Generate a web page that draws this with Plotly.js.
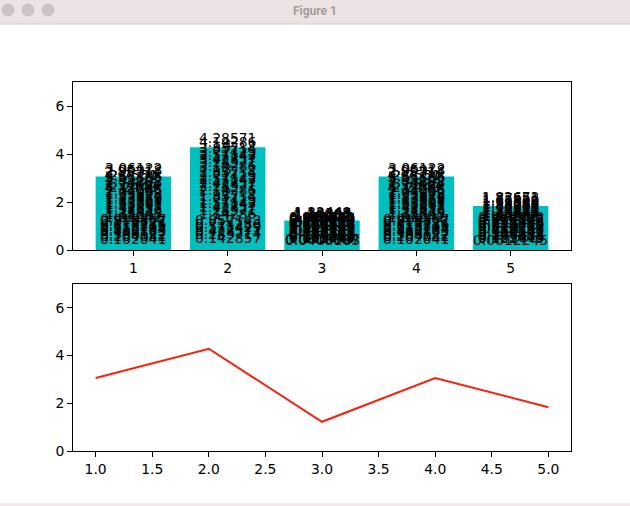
<!DOCTYPE html>
<html>
<head>
<meta charset="utf-8">
<script src="https://cdn.plot.ly/plotly-3.0.1.min.js"></script>
<style>html,body{margin:0;padding:0;background:#fff;}#chart{width:630px;height:506px;}</style>
</head>
<body>
<div id="chart"></div>
<script>
// ---- data ----
const categories = [1, 2, 3, 4, 5];
const barValues = [3.06122, 4.28571, 1.22449, 3.06122, 1.83673];
const lineX = [1, 2, 3, 4, 5];
const lineValues = [3.06122, 4.28571, 1.22449, 3.06122, 1.83673];

// labels drawn on each bar (one per redraw step)
const labels1 = [0.102041,0.204082,0.306122,0.408163,0.510204,0.612245,0.714286,0.816327,0.918367,1.02041,1.12245,1.22449,1.32653,1.42857,1.53061,1.63265,1.73469,1.83673,1.93878,2.04082,2.14286,2.2449,2.34694,2.44898,2.55102,2.65306,2.7551,2.85714,2.95918,3.06122];
const labels2 = [0.142857,0.285714,0.428571,0.571429,0.714286,0.857143,1,1.14286,1.28571,1.42857,1.57143,1.71429,1.85714,2,2.14286,2.28571,2.42857,2.57143,2.71429,2.85714,3,3.14286,3.28571,3.42857,3.57143,3.71429,3.85714,4,4.14286,4.28571];
const labels3 = [0.0408163,0.0816327,0.122449,0.163265,0.204082,0.244898,0.285714,0.326531,0.367347,0.408163,0.44898,0.489796,0.530612,0.571429,0.612245,0.653061,0.693878,0.734694,0.77551,0.816327,0.857143,0.897959,0.938776,0.979592,1.02041,1.06122,1.10204,1.14286,1.18367,1.22449];
const labels4 = [0.102041,0.204082,0.306122,0.408163,0.510204,0.612245,0.714286,0.816327,0.918367,1.02041,1.12245,1.22449,1.32653,1.42857,1.53061,1.63265,1.73469,1.83673,1.93878,2.04082,2.14286,2.2449,2.34694,2.44898,2.55102,2.65306,2.7551,2.85714,2.95918,3.06122];
const labels5 = [0.0612245,0.122449,0.183673,0.244898,0.306122,0.367347,0.428571,0.489796,0.55102,0.612245,0.673469,0.734694,0.795918,0.857143,0.918367,0.979592,1.04082,1.10204,1.16327,1.22449,1.28571,1.34694,1.40816,1.46939,1.53061,1.59184,1.65306,1.71429,1.77551,1.83673];
const barLabels = [labels1, labels2, labels3, labels4, labels5];
const topTicks = [1, 2, 3, 4, 5];
const yTicks = [0, 2, 4, 6];

// ---- layout helpers ----
const W = 630, H = 506;
const px = v => v / W;
const py = v => 1 - v / H;
const FONT = 'DejaVu Sans, sans-serif';
const FS = 13.9;

const annotations = [];
barLabels.forEach((arr, i) => {
  arr.forEach(v => {
    annotations.push({
      x: categories[i], y: v, xref: 'x', yref: 'y',
      text: String(v), showarrow: false,
      xanchor: 'center', yanchor: 'bottom',
      font: {family: FONT, size: FS, color: '#000'},
      borderpad: 0
    });
  });
});
annotations.push({
  x: px(315), y: py(11), xref: 'paper', yref: 'paper',
  text: '<b>Figure 1</b>', showarrow: false,
  xanchor: 'center', yanchor: 'middle',
  font: {family: 'Roboto, Liberation Sans, sans-serif', size: 12, color: '#a59d9e'}
});

const shapes = [
  {type: 'rect', xref: 'paper', yref: 'paper', x0: 0, x1: 1, y0: py(24), y1: 1,
   fillcolor: '#eee3e4', line: {width: 0}, layer: 'below'},
  {type: 'line', xref: 'paper', yref: 'paper', x0: 0, x1: 1, y0: py(24), y1: py(24),
   line: {color: '#d9d1d2', width: 1}},
  {type: 'rect', xref: 'paper', yref: 'paper', x0: 0, x1: 1, y0: 0, y1: py(503),
   fillcolor: '#f6e6ea', line: {width: 0}, layer: 'below'}
];
[8, 28, 48].forEach(cx => {
  shapes.push({type: 'circle', xref: 'paper', yref: 'paper',
    x0: px(cx - 6), x1: px(cx + 6), y0: py(16), y1: py(4),
    fillcolor: '#cdc4c5', line: {color: '#bdb4b5', width: 0.6}});
});

const axisCommon = {
  showline: true, mirror: true, linecolor: '#000', linewidth: 1,
  ticks: 'outside', ticklen: 5, tickwidth: 1, tickcolor: '#000',
  showgrid: false, zeroline: false,
  tickfont: {family: FONT, size: FS, color: '#000'}
};

const data = [
  {type: 'bar', x: categories, y: barValues, width: 0.8,
   marker: {color: '#00bfbf', line: {width: 0}}, xaxis: 'x', yaxis: 'y',
   hoverinfo: 'skip'},
  {type: 'scatter', mode: 'lines', x: lineX, y: lineValues,
   line: {color: '#f8200e', width: 2}, xaxis: 'x2', yaxis: 'y2',
   hoverinfo: 'skip'}
];

const layout = {
  width: W, height: H,
  margin: {l: 0, r: 0, t: 0, b: 0},
  paper_bgcolor: '#fff', plot_bgcolor: '#fff',
  showlegend: false,
  xaxis: Object.assign({}, axisCommon, {
    domain: [px(73), px(571)], range: [0.36, 5.64],
    tickmode: 'array', tickvals: topTicks, ticktext: topTicks.map(String),
    anchor: 'y'
  }),
  yaxis: Object.assign({}, axisCommon, {
    domain: [py(250), py(82)], range: [0, 7],
    tickmode: 'array', tickvals: yTicks, ticktext: yTicks.map(String),
    anchor: 'x'
  }),
  xaxis2: Object.assign({}, axisCommon, {
    domain: [px(73), px(571)], range: [0.8, 5.2],
    tickmode: 'linear', tick0: 1, dtick: 0.5, tickformat: '.1f',
    anchor: 'y2'
  }),
  yaxis2: Object.assign({}, axisCommon, {
    domain: [py(451), py(284)], range: [0, 7],
    tickmode: 'array', tickvals: yTicks, ticktext: yTicks.map(String),
    anchor: 'x2'
  }),
  annotations: annotations,
  shapes: shapes
};

Plotly.newPlot('chart', data, layout, {staticPlot: true, displayModeBar: false});
</script>
</body>
</html>
